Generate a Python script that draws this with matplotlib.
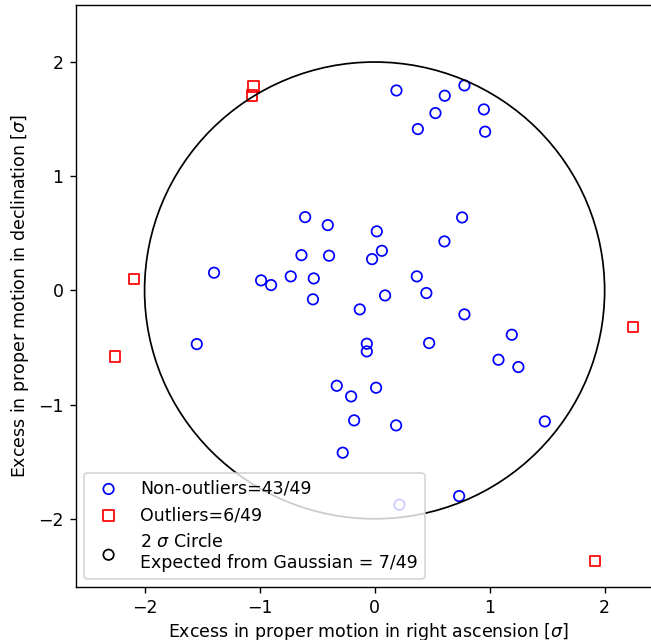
import matplotlib
matplotlib.use("Agg")
import matplotlib.pyplot as plt

# excess proper motion (RA, Dec) in units of sigma
inlier_ra = [-0.604, -0.407, 0.019, -0.636, -0.396, -0.022, -1.396, -0.987, -0.900,
             -0.729, -0.529, -0.536, 0.190, 0.610, 0.781, 0.529, 0.950, 0.376,
             0.961, 0.761, 0.607, 0.063, 0.367, 0.091, 0.450, -0.129, -1.546,
             -0.068, -0.068, -0.329, -0.204, 0.013, -0.178, -0.277, 0.781, 1.193,
             0.474, 1.077, 1.250, 0.187, 1.480, 0.735, 0.216]
inlier_dec = [0.642, 0.572, 0.517, 0.309, 0.304, 0.274, 0.155, 0.088, 0.047,
              0.123, 0.105, -0.078, 1.751, 1.705, 1.795, 1.553, 1.585, 1.413,
              1.390, 0.639, 0.429, 0.347, 0.123, -0.044, -0.023, -0.166, -0.470,
              -0.467, -0.534, -0.835, -0.928, -0.852, -1.138, -1.421, -0.210, -0.388,
              -0.461, -0.607, -0.671, -1.182, -1.147, -1.801, -1.877]

outlier_ra = [-1.054, -1.068, -2.091, -2.257, 2.248, 1.917]
outlier_dec = [1.786, 1.708, 0.102, -0.578, -0.321, -2.367]

n_total = len(inlier_ra) + len(outlier_ra)
radius = 2
n_expected = 7

fig = plt.figure(figsize=(651 / 125, 640 / 125), dpi=125)
ax = fig.add_axes([0.1161, 0.0823, 0.901, 0.910])

ax.scatter(inlier_ra, inlier_dec, facecolors='none', edgecolors='b',
           label=f'Non-outliers={len(inlier_ra)}/{n_total}')
ax.scatter(outlier_ra, outlier_dec, marker='s', facecolors='none', edgecolors='r',
           label=f'Outliers={len(outlier_ra)}/{n_total}')
ax.add_patch(plt.Circle((0, 0), radius, fill=False, color='k'))
# proxy handle for the circle in the legend
ax.scatter([], [], facecolors='none', edgecolors='k',
           label=f'{radius} $\\sigma$ Circle\nExpected from Gaussian = {n_expected}/{n_total}')

ax.set_xlim(-2.6, 2.5)
ax.set_ylim(-2.6, 2.5)
ax.set_xticks([-2, -1, 0, 1, 2])
ax.set_yticks([-2, -1, 0, 1, 2])
ax.set_xlabel('Excess in proper motion in right ascension [$\\sigma$]', labelpad=2)
ax.set_ylabel('Excess in proper motion in declination [$\\sigma$]')
ax.legend(loc='lower left')

fig.savefig('out.png', dpi=125)
